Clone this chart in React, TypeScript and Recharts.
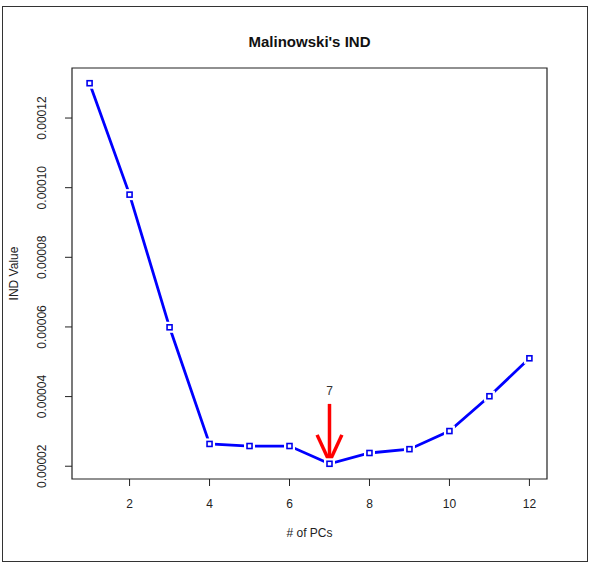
import React from 'react';
import {
  LineChart,
  Line,
  XAxis,
  YAxis,
  ReferenceArea,
  ReferenceLine,
  ReferenceDot,
  Customized,
} from 'recharts';

// ---- data ----
const pcs = [1, 2, 3, 4, 5, 6, 7, 8, 9, 10, 11, 12];
const indValues = [
  0.00013, 0.000098, 0.0000599, 0.0000264, 0.0000258, 0.0000258,
  0.0000207, 0.0000238, 0.0000249, 0.0000301, 0.0000401, 0.000051,
];
const xTicks = [2, 4, 6, 8, 10, 12];
const yTicks = [0.00002, 0.00004, 0.00006, 0.00008, 0.0001, 0.00012];
const xDomain = [0.56, 12.44];
const yDomain = [0.00001633, 0.00013437];

// arrow annotation
const arrowPc = 7;
const arrowTop = 0.0000379;
const arrowTip = 0.0000213;
const arrowHeadY = 0.000029;
const arrowHeadHalfWidth = 0.31;
const arrowLabelY = 0.0000417;
const arrowLabel = '7';

const title = "Malinowski's IND";
const xLabel = '# of PCs';
const yLabel = 'IND Value';

const data = pcs.map((pc, i) => ({ pc, ind: indValues[i] }));

const FONT = '"Liberation Sans", Arial, sans-serif';

const SquareDot = (props: any) => {
  const { cx, cy } = props;
  if (cx == null || cy == null) return null;
  return (
    <g>
      <rect x={cx - 5.5} y={cy - 5.5} width={11} height={11} fill="#fff" />
      <rect
        x={cx - 2.5}
        y={cy - 2.5}
        width={5}
        height={5}
        fill="none"
        stroke="#0000ee"
        strokeWidth={1.6}
      />
    </g>
  );
};

const YTick = (props: any) => {
  const { x, y, payload } = props;
  return (
    <text
      x={x}
      y={y}
      transform={`rotate(-90 ${x} ${y})`}
      textAnchor="middle"
      dominantBaseline="central"
      fontFamily={FONT}
      fontSize={12}
      fill="#222"
    >
      {Number(payload.value).toFixed(5)}
    </text>
  );
};

const Decorations = () => (
  <g>
    <rect x={2.5} y={6.5} width={585} height={555} fill="none" stroke="#333" strokeWidth={1} />
    <text
      x={309.5}
      y={41}
      textAnchor="middle"
      dominantBaseline="central"
      fontFamily={FONT}
      fontSize={15}
      fontWeight="bold"
      fill="#111"
    >
      {title}
    </text>
    <text
      x={309.5}
      y={533}
      textAnchor="middle"
      dominantBaseline="central"
      fontFamily={FONT}
      fontSize={12}
      fill="#222"
    >
      {xLabel}
    </text>
    <text
      x={14}
      y={273.5}
      transform="rotate(-90 14 273.5)"
      textAnchor="middle"
      dominantBaseline="central"
      fontFamily={FONT}
      fontSize={12}
      fill="#222"
    >
      {yLabel}
    </text>
  </g>
);

const ArrowLabel = (props: any) => {
  const { cx, cy } = props;
  return (
    <text
      x={cx}
      y={cy}
      textAnchor="middle"
      dominantBaseline="central"
      fontFamily={FONT}
      fontSize={12}
      fill="#333"
    >
      {arrowLabel}
    </text>
  );
};

export default function App() {
  return (
    <div style={{ position: 'absolute', left: 0, top: 0, width: 601, height: 567, background: '#fff' }}>
      <LineChart
        width={601}
        height={567}
        data={data}
        margin={{ top: 68, right: 54, bottom: 58, left: 12 }}
      >
        <XAxis
          dataKey="pc"
          type="number"
          domain={xDomain}
          ticks={xTicks}
          allowDataOverflow
          axisLine={false}
          tickLine={{ stroke: '#222' }}
          tickSize={7}
          tickMargin={13}
          height={30}
          tick={{ fontFamily: FONT, fontSize: 12, fill: '#222' }}
          interval={0}
        />
        <YAxis
          type="number"
          domain={yDomain}
          ticks={yTicks}
          allowDataOverflow
          axisLine={false}
          tickLine={{ stroke: '#222' }}
          tickSize={7}
          tickMargin={23}
          width={60}
          tick={<YTick />}
          interval={0}
        />
        <ReferenceArea
          x1={xDomain[0]}
          x2={xDomain[1]}
          y1={yDomain[0]}
          y2={yDomain[1]}
          fill="none"
          fillOpacity={0}
          stroke="#222"
          strokeWidth={1.2}
          ifOverflow="visible"
        />
        <Line
          dataKey="ind"
          stroke="#0000ff"
          strokeWidth={2.8}
          dot={<SquareDot />}
          activeDot={false}
          isAnimationActive={false}
        />
        <ReferenceLine
          segment={[
            { x: arrowPc, y: arrowTop },
            { x: arrowPc, y: arrowTip },
          ]}
          stroke="#ff0000"
          strokeWidth={3.5}
          ifOverflow="visible"
        />
        <ReferenceLine
          segment={[
            { x: arrowPc - arrowHeadHalfWidth, y: arrowHeadY },
            { x: arrowPc, y: arrowTip },
          ]}
          stroke="#ff0000"
          strokeWidth={3.5}
          ifOverflow="visible"
        />
        <ReferenceLine
          segment={[
            { x: arrowPc + arrowHeadHalfWidth, y: arrowHeadY },
            { x: arrowPc, y: arrowTip },
          ]}
          stroke="#ff0000"
          strokeWidth={3.5}
          ifOverflow="visible"
        />
        <ReferenceDot x={arrowPc} y={arrowLabelY} r={0} shape={<ArrowLabel />} ifOverflow="visible" />
        <Customized component={<Decorations />} />
      </LineChart>
    </div>
  );
}
